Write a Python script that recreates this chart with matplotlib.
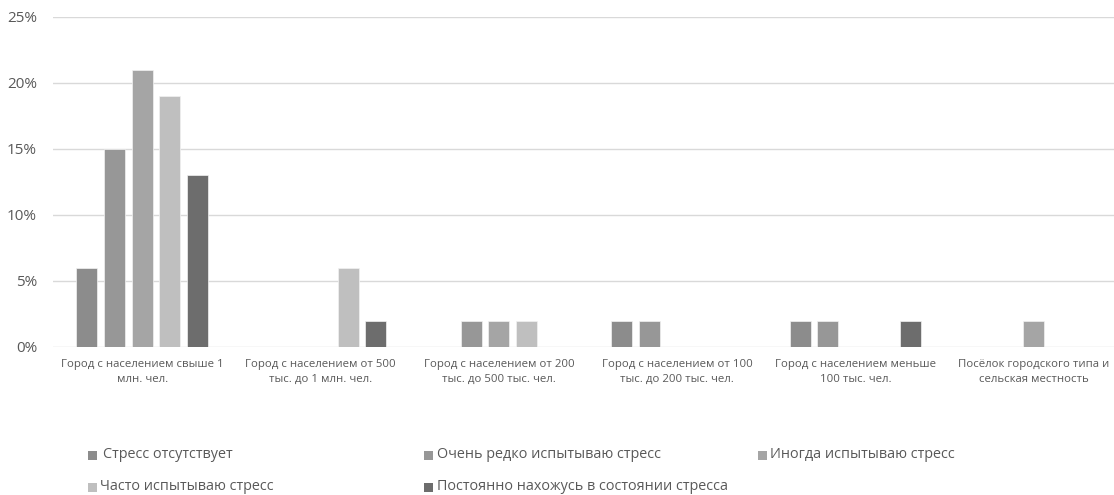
import matplotlib
matplotlib.use("Agg")
import matplotlib.pyplot as plt
from matplotlib.patches import Rectangle
import numpy as np

plt.rcParams['font.family'] = ['Open Sans', 'DejaVu Sans']

categories = [
    "Город с населением свыше 1\nмлн. чел.",
    "Город с населением от 500\nтыс. до 1 млн. чел.",
    "Город с населением от 200\nтыс. до 500 тыс. чел.",
    "Город с населением от 100\nтыс. до 200 тыс. чел.",
    "Город с населением меньше\n100 тыс. чел.",
    "Посёлок городского типа и\nсельская местность",
]

series_names = [
    "Стресс отсутствует",
    "Очень редко испытываю стресс",
    "Иногда испытываю стресс",
    "Часто испытываю стресс",
    "Постоянно нахожусь в состоянии стресса",
]

no_stress = [6, 0, 0, 2, 2, 0]
very_rare = [15, 0, 2, 2, 2, 0]
sometimes = [21, 0, 2, 0, 0, 2]
often = [19, 6, 2, 0, 0, 0]
constant = [13, 2, 0, 0, 2, 0]

series_values = [no_stress, very_rare, sometimes, often, constant]
colors = ["#8c8c8c", "#979797", "#a5a5a5", "#bfbfbf", "#6d6d6d"]

yticks = [0, 5, 10, 15, 20, 25]
ytick_labels = ["0%", "5%", "10%", "15%", "20%", "25%"]

W, H = 1114, 495
fig = plt.figure(figsize=(W / 100, H / 100), dpi=100)
ax = fig.add_axes([53 / W, 1 - 347 / H, 1070 / W, 330 / H])

x = np.arange(len(categories))
step = 0.155
bar_w = 0.118
for i, (vals, col) in enumerate(zip(series_values, colors)):
    offs = (i - 2) * step
    ax.bar(x + offs, vals, width=bar_w, color=col, edgecolor="#f2f2f2",
           linewidth=0.5, zorder=3)

ax.set_xlim(-0.5, len(categories) - 0.5)
ax.set_ylim(0, 25)
ax.set_yticks(yticks)
ax.set_yticklabels(ytick_labels, fontsize=11, color="#595959")
ax.set_xticks(x)
ax.set_xticklabels(categories, fontsize=8.2, color="#595959", linespacing=1.4)
ax.tick_params(axis="both", length=0)
ax.tick_params(axis="y", pad=11.5)
ax.tick_params(axis="x", pad=9)
ax.grid(axis="y", color="#d9d9d9", linewidth=1, zorder=0)
for s in ax.spines.values():
    s.set_visible(False)

# Legend laid out in two rows, three columns
legend_pos = [
    (92, 455, 103), (428, 455, 437), (762, 455, 770),
    (92, 487, 100), (428, 487, 437),
]
sq = 9
for name, col, (mx, my, tx) in zip(series_names, colors, legend_pos):
    fig.patches.append(Rectangle(((mx - sq / 2) / W, 1 - (my + sq / 2) / H),
                                 sq / W, sq / H, transform=fig.transFigure,
                                 facecolor=col, edgecolor="none"))
    fig.text(tx / W, 1 - my / H, name, fontsize=10.4, color="#595959",
             va="center", ha="left")

fig.savefig("out.png", dpi=100)
